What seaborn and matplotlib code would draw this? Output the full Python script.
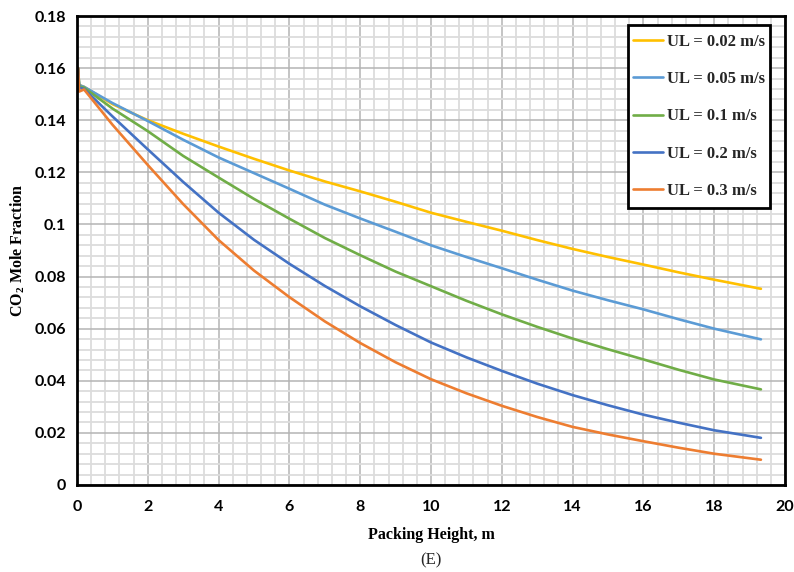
import numpy as np
import pandas as pd
import matplotlib
matplotlib.use("Agg")
import matplotlib.pyplot as plt
from matplotlib.patches import Rectangle
from matplotlib.ticker import MultipleLocator, FuncFormatter
import seaborn as sns

# Packing height (m) at which the CO2 mole fraction was sampled
height = [0.03, 0.06, 0.2, 1.0, 2.0, 3.0, 4.0, 5.0, 6.0, 7.0, 8.0, 9.0,
          10.0, 11.0, 12.0, 13.0, 14.0, 15.0, 16.0, 17.0, 18.0, 19.32]

# CO2 mole fraction in the gas phase for each liquid velocity
ul_002 = [0.160, 0.1535, 0.1528, 0.1462, 0.1400, 0.1348, 0.1299, 0.1252, 0.1207, 0.1165, 0.1127, 0.1087,
          0.1045, 0.1010, 0.0976, 0.0940, 0.0906, 0.0875, 0.0846, 0.0816, 0.0788, 0.0753]
ul_005 = [0.160, 0.1535, 0.1528, 0.1466, 0.1397, 0.1325, 0.1257, 0.1197, 0.1137, 0.1076, 0.1023, 0.0972,
          0.0920, 0.0875, 0.0832, 0.0788, 0.0746, 0.0709, 0.0674, 0.0636, 0.0600, 0.0559]
ul_01 = [0.160, 0.1530, 0.1525, 0.1445, 0.1358, 0.1263, 0.1180, 0.1098, 0.1022, 0.0948, 0.0882, 0.0819,
         0.0763, 0.0707, 0.0655, 0.0607, 0.0562, 0.0521, 0.0482, 0.0442, 0.0405, 0.0367]
ul_02 = [0.160, 0.1525, 0.1520, 0.1415, 0.1288, 0.1163, 0.1045, 0.0941, 0.0849, 0.0764, 0.0686, 0.0614,
         0.0547, 0.0490, 0.0438, 0.0389, 0.0345, 0.0306, 0.0270, 0.0239, 0.0210, 0.0181]
ul_03 = [0.160, 0.1510, 0.1518, 0.1383, 0.1228, 0.1078, 0.0940, 0.0823, 0.0721, 0.0628, 0.0545, 0.0471,
         0.0406, 0.0352, 0.0304, 0.0261, 0.0223, 0.0194, 0.0168, 0.0143, 0.0120, 0.0097]

labels = ["UL = 0.02 m/s", "UL = 0.05 m/s", "UL = 0.1 m/s", "UL = 0.2 m/s", "UL = 0.3 m/s"]
colors = ["#FFC000", "#5B9BD5", "#70AD47", "#4472C4", "#ED7D31"]

series = [ul_002, ul_005, ul_01, ul_02, ul_03]
df = pd.concat(
    [pd.DataFrame({"height": height, "frac": s, "case": lab}) for s, lab in zip(series, labels)],
    ignore_index=True,
)

sns.set_theme(style="white")
plt.rcParams["mathtext.default"] = "regular"

fig = plt.figure(figsize=(7.94, 5.72), dpi=100)
ax = fig.add_axes([77 / 794, 1 - 485 / 572, 708 / 794, 469 / 572])

sns.lineplot(
    data=df, x="height", y="frac", hue="case", hue_order=labels,
    palette=colors, estimator=None, sort=False, linewidth=1.9, ax=ax,
)

ax.set_xlim(0, 20)
ax.set_ylim(0, 0.18)
ax.xaxis.set_major_locator(MultipleLocator(2))
ax.xaxis.set_minor_locator(MultipleLocator(0.4))
ax.yaxis.set_major_locator(MultipleLocator(0.02))
ax.yaxis.set_minor_locator(MultipleLocator(0.004))
ax.yaxis.set_major_formatter(FuncFormatter(lambda v, p: f"{v:.2f}".rstrip("0").rstrip(".") if v else "0"))
ax.xaxis.set_major_formatter(FuncFormatter(lambda v, p: f"{v:g}"))

ax.grid(which="minor", color="#dcdcdc", linewidth=1.3, zorder=0)
ax.grid(which="major", color="#b4b4b4", linewidth=1.1, zorder=0)
ax.set_axisbelow(True)
ax.tick_params(which="both", length=0)
ax.tick_params(axis="y", pad=8)
ax.tick_params(axis="x", pad=11)
for lab in ax.get_xticklabels() + ax.get_yticklabels():
    lab.set_fontfamily("Lato")
    lab.set_fontweight("bold")
    lab.set_fontsize(11.5)
    lab.set_color("black")

for sp in ax.spines.values():
    sp.set_color("black")
    sp.set_linewidth(2.0)
    sp.set_visible(True)

serif = "Liberation Serif"
ax.set_xlabel("Packing Height, m", fontfamily=serif, fontweight="bold", fontsize=11.5, labelpad=9, color="black")
ax.set_ylabel("CO$_2$ Mole Fraction", fontfamily=serif, fontweight="bold", fontsize=11.5, labelpad=5, color="black")
fig.text(431 / 794, 1 - 560 / 572, "(E)", fontfamily=serif, fontsize=12, ha="center", va="center")

# Legend box drawn as its own frame so the padding can differ per side
x0, x1 = (628 - 77) / 708, (770 - 77) / 708
y0, y1 = (485 - 208) / 469, (485 - 25) / 469
ax.add_patch(Rectangle((x0, y0), x1 - x0, y1 - y0, transform=ax.transAxes,
                       facecolor="white", edgecolor="black", linewidth=2.0,
                       zorder=4.5, clip_on=False))
leg = ax.legend(
    loc="center", bbox_to_anchor=((x0 + x1) / 2, (y0 + y1) / 2),
    borderaxespad=0, frameon=False, handlelength=1.8, handletextpad=0.25,
    labelspacing=1.28, borderpad=0.0,
    prop={"family": serif, "weight": "bold", "size": 12},
)
leg.set_zorder(5)
for h in leg.get_lines():
    h.set_linewidth(1.9)

fig.savefig("out.png", dpi=100, facecolor="white")
